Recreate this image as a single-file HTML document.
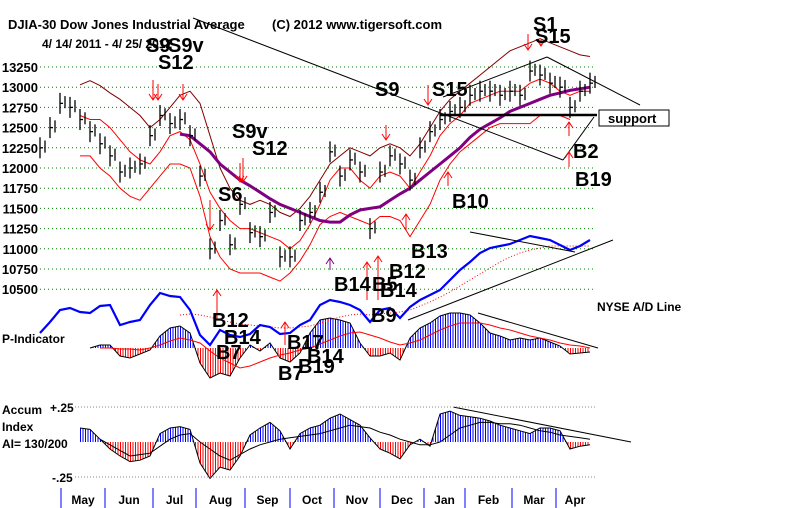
<!DOCTYPE html>
<html><head><meta charset="utf-8">
<style>
html,body{margin:0;padding:0;background:#fff;}
#wrap{position:relative;width:800px;height:508px;overflow:hidden;background:#fff;}
svg text{font-family:"Liberation Sans",Arial,sans-serif;font-weight:bold;fill:#000;}
</style></head>
<body>
<div id="wrap">
<svg id="chart" width="800" height="508" viewBox="0 0 800 508" xmlns="http://www.w3.org/2000/svg">
<defs>
<pattern id="stripeBlue" width="2.5" height="4" patternUnits="userSpaceOnUse"><rect x="0" y="0" width="1" height="4" fill="#0000ff"/></pattern>
<pattern id="stripeRed" width="2.5" height="4" patternUnits="userSpaceOnUse"><rect x="0" y="0" width="1" height="4" fill="#ff0000"/></pattern>
<clipPath id="pAbove"><rect x="0" y="0" width="800" height="348"/></clipPath>
<clipPath id="pBelow"><rect x="0" y="348" width="800" height="60"/></clipPath>
<clipPath id="aAbove"><rect x="0" y="380" width="800" height="62"/></clipPath>
<clipPath id="aBelow"><rect x="0" y="442" width="800" height="50"/></clipPath>
</defs>
<g id="grid"></g>
<g id="ylabels"></g>
<g id="series"></g>

<text x="8" y="29" font-size="13">DJIA-30  Dow Jones Industrial Average</text>
<text x="272" y="29" font-size="13">(C) 2012 www.tigersoft.com</text>
<text x="42" y="48" font-size="12">4/ 14/ 2011 - 4/ 25/ 2012</text>

<g stroke="#000" stroke-width="1" fill="none">
<line x1="193" y1="18" x2="563" y2="160"/>
<line x1="563" y1="160" x2="594" y2="117"/>
<line x1="443" y1="97" x2="547" y2="57"/>
<line x1="547" y1="57" x2="640" y2="105"/>
<line x1="440" y1="115" x2="597" y2="115" stroke-width="2.5"/>
<line x1="408" y1="320" x2="613" y2="240"/>
<line x1="470" y1="232" x2="575" y2="252"/>
<line x1="478" y1="313" x2="598" y2="348"/>
<line x1="453" y1="407" x2="631" y2="442"/>
</g>
<g>
<rect x="599" y="110" width="70" height="16" fill="#fff" stroke="#000" stroke-width="1"/>
<text x="608" y="123" font-size="13">support</text>
</g>

<g id="arrows"></g>

<g font-size="20">
<text x="146" y="52" font-size="20">S9</text><text x="168" y="52" font-size="20">S9v</text>
<text x="158" y="69" font-size="20">S12</text>
<text x="232" y="138" font-size="20">S9v</text>
<text x="252" y="155" font-size="20">S12</text>
<text x="218" y="201" font-size="20">S6</text>
<text x="375" y="96" font-size="20">S9</text>
<text x="432" y="96" font-size="20">S15</text>
<text x="533" y="31" font-size="20">S1</text>
<text x="535" y="43" font-size="20">S15</text>
<text x="573" y="158" font-size="20">B2</text>
<text x="575" y="186" font-size="20">B19</text>
<text x="452" y="208" font-size="20">B10</text>
<text x="411" y="258" font-size="20">B13</text>
<text x="389" y="278" font-size="20">B12</text>
<text x="334" y="291" font-size="20">B14</text>
<text x="372" y="291" font-size="20">B5</text>
<text x="380" y="297" font-size="20">B14</text>
<text x="371" y="322" font-size="20">B9</text>
<text x="212" y="327" font-size="20">B12</text>
<text x="224" y="344" font-size="20">B14</text>
<text x="216" y="359" font-size="20">B7</text>
<text x="287" y="349" font-size="20">B17</text>
<text x="307" y="363" font-size="20">B14</text>
<text x="278" y="380" font-size="20">B7</text>
<text x="298" y="373" font-size="20">B19</text>
</g>

<text x="597" y="311" font-size="12">NYSE A/D Line</text>
<text x="2" y="343" font-size="12">P-Indicator</text>
<text x="2" y="414" font-size="12">Accum</text>
<text x="2" y="431" font-size="12">Index</text>
<text x="2" y="448" font-size="12">AI= 130/200</text>
<text x="50" y="412" font-size="12">+.25</text>
<text x="52" y="482" font-size="12">-.25</text>
<line x1="75" y1="407" x2="595" y2="407" stroke="#888" stroke-dasharray="1,2"/>
<line x1="75" y1="477" x2="595" y2="477" stroke="#888" stroke-dasharray="1,2"/>

<g id="xaxis"></g>
</svg>
</div>
<script>
// ---- data (one point every ~week, index 0 = mid-Apr 2011) ----
const priceTicks = [13250,13000,12750,12500,12250,12000,11750,11500,11250,11000,10750,10500];
const closes = [12250,12500,12800,12750,12600,12450,12300,12150,11950,12000,12050,12400,12650,12550,12600,12400,11900,11000,11350,11050,11550,11200,11150,11450,10900,10900,11350,11450,11700,12200,11900,12100,11950,11250,11950,12150,12050,11850,12250,12450,12600,12700,12750,12900,12950,12950,12900,12950,12900,13200,13150,13050,13000,12750,12950,13050];
const ma50 = [null,null,null,null,null,null,null,null,null,null,null,null,null,null,12420,12400,12300,12200,12050,11950,11850,11780,11700,11620,11550,11500,11450,11400,11350,11330,11330,11420,11480,11500,11520,11600,11680,11750,11850,11950,12050,12150,12250,12380,12480,12550,12620,12700,12750,12800,12850,12900,12930,12960,12980,13000];
const upperBand = [null,null,null,null,13030,13080,13020,12930,12850,12750,12650,12500,12600,12750,12900,12950,12800,12400,12000,11750,11600,11550,11600,11550,11450,11400,11500,11650,11850,12050,12150,12250,12200,12150,12250,12300,12250,12150,12300,12500,12700,12850,12950,13050,13150,13250,13350,13450,13500,13550,13600,13550,13500,13450,13400,13380];
const redUpper = [null,null,null,null,12650,12600,12600,12500,12350,12200,12100,12050,12200,12400,12450,12350,12050,11700,11500,11350,11250,11250,11200,11150,11100,11000,11100,11300,11550,11850,12000,12000,11850,11750,11900,11950,11900,11750,11950,12150,12400,12550,12650,12800,12850,12900,12950,12950,12950,13050,13100,13050,12950,12900,12950,12950];
const redLower = [null,null,null,null,12150,12150,12000,11900,11750,11650,11600,11750,11900,12050,12050,12000,11650,11150,10900,10750,10700,10700,10700,10650,10600,10700,10850,11050,11300,11400,11450,11400,11350,11300,11400,11400,11350,11150,11350,11550,11850,12050,12200,12300,12400,12500,12550,12550,12550,12550,12650,12650,12650,12600,null,null];
const adLine = [17,28,40,42,38,37,44,45,25,28,30,45,57,54,53,40,15,5,20,15,13,16,25,23,16,17,25,30,45,50,48,45,40,28,40,42,32,43,50,55,60,70,80,88,97,102,104,106,110,114,112,110,105,100,104,110];
const adMA = [null,null,null,null,null,null,null,null,null,null,null,null,null,null,35,36,35,33,30,28,26,25,24,23,22,22,23,24,27,30,33,35,36,35,36,37,38,40,44,48,53,58,64,70,76,82,88,93,97,100,102,104,104,104,104,104];
const pInd = [null,null,null,null,null,0,3,3,-8,-10,-6,-2,12,20,22,15,-15,-30,-25,-28,-10,3,-3,5,-10,-14,-5,15,28,30,28,25,5,-8,-8,-5,-12,10,20,25,32,35,35,33,25,15,12,8,10,8,10,6,2,-6,-5,-4];
const pMA = [null,null,null,null,null,null,0,0,-1,-1,-2,0,3,7,10,8,5,-3,-10,-15,-20,-18,-14,-10,-7,-5,-2,0,4,8,12,15,16,13,10,6,3,5,8,13,18,22,25,25,25,23,20,18,15,12,10,8,5,3,2,0];
const accum = [null,null,null,null,0.10,0.09,0.02,-0.05,-0.10,-0.14,-0.13,-0.10,0.06,0.10,0.11,0.09,-0.15,-0.26,-0.18,-0.20,-0.10,0.05,0.10,0.14,0.08,-0.05,0.06,0.10,0.12,0.17,0.20,0.16,0.12,0.03,-0.05,-0.08,-0.12,-0.02,0.02,-0.03,0.20,0.22,0.19,0.18,0.17,0.15,0.12,0.10,0.08,0.06,0.10,0.10,0.08,-0.05,-0.03,-0.02];
const accumMA = [null,null,null,null,null,null,0.02,-0.02,-0.06,-0.10,-0.09,-0.08,-0.03,0.02,0.05,0.06,0.00,-0.05,-0.10,-0.13,-0.09,-0.05,-0.02,0.00,0.02,0.03,0.04,0.05,0.06,0.08,0.10,0.12,0.11,0.10,0.07,0.05,0.02,0.00,-0.02,-0.02,0.00,0.05,0.10,0.12,0.14,0.14,0.13,0.13,0.12,0.10,0.08,0.07,0.05,0.04,0.03,0.02];
const months = ["May","Jun","Jul","Aug","Sep","Oct","Nov","Dec","Jan","Feb","Mar","Apr"];
const monthStart = [2.1,6.5,11.3,15.6,20.5,25,29.4,34,38.4,42.5,47.2,51.6];

// ---- scales ----
const NS = "http://www.w3.org/2000/svg";
function xI(i){ return 40 + i*10; }
function yP(v){ return 67 + (13250 - v)/250*20.2; }
function yAD(v){ return 350 - v; }
function yPI(v){ return 348 - v; }
function yAI(v){ return 442 - v/0.25*35; }
function mk(tag, attrs, parent){ const e=document.createElementNS(NS,tag); for(const k in attrs) e.setAttribute(k,attrs[k]); parent.appendChild(e); return e; }
function pathOf(arr, fy){ let d=""; let pen=false; arr.forEach((v,i)=>{ if(v===null){pen=false;return;} d += (pen?"L":"M")+xI(i).toFixed(1)+","+fy(v).toFixed(1)+" "; pen=true; }); return d; }

const grid = document.getElementById("grid");
const ylab = document.getElementById("ylabels");
priceTicks.forEach(t=>{
  const l = mk("line",{x1:40,x2:595,y1:yP(t),y2:yP(t),stroke:"#008000","stroke-dasharray":"1,3"},grid);
  
  
  const tx = mk("text",{x:38,y:yP(t)+5,"font-size":"13","text-anchor":"end"},ylab);
  tx.textContent = t;
  
  
});

const S = document.getElementById("series");
function line(arr, fy, attrs, name){
  const p = mk("path", Object.assign({d:pathOf(arr,fy),fill:"none"},attrs), S);
  
  
  return p;
}
function hist(arr, fy, base, clipA, clipB, name){
  let pts = []; let first=-1, last=-1;
  arr.forEach((v,i)=>{ if(v!==null){ if(first<0) first=i; last=i; pts.push(xI(i)+","+fy(v)); }});
  const poly = xI(first)+","+base+" "+pts.join(" ")+" "+xI(last)+","+base;
  const a = mk("polygon",{points:poly,fill:"url(#stripeBlue)","clip-path":"url(#"+clipA+")"},S);
  
  
  const b = mk("polygon",{points:poly,fill:"url(#stripeRed)","clip-path":"url(#"+clipB+")"},S);
  
  
  line(arr, fy, {stroke:"#000","stroke-width":1}, name+'-outline');
}

// price bands
line(upperBand, yP, {stroke:"#800000","stroke-width":1}, 'upper-band');
line(redUpper, yP, {stroke:"#ff0000","stroke-width":1}, 'red-upper-band');
line(redLower, yP, {stroke:"#ff0000","stroke-width":1}, 'red-lower-band');
line(ma50, yP, {stroke:"#800080","stroke-width":3}, 'moving-average');
// price bars
closes.forEach((c,i)=>{
  const x = xI(i);
  const g = mk("g",{stroke:"#000","stroke-width":1.3},S);
  
  
  mk("line",{x1:x,x2:x,y1:yP(c+130),y2:yP(c-130)},g);
  mk("line",{x1:x,x2:x+3,y1:yP(c),y2:yP(c)},g);
  mk("line",{x1:x+5,x2:x+5,y1:yP(c+90),y2:yP(c-60)},g);
});
// P-indicator
hist(pInd, yPI, 348, "pAbove", "pBelow", 'p-indicator');
line(pMA, yPI, {stroke:"#ff0000","stroke-width":1}, 'p-indicator-ma');
// A/D line
line(adMA, yAD, {stroke:"#ff0000","stroke-width":1,"stroke-dasharray":"1,2"}, 'ad-line-ma');
line(adLine, yAD, {stroke:"#0000ff","stroke-width":2.2}, 'nyse-ad-line');
// Accum index
hist(accum, yAI, 442, "aAbove", "aBelow", 'accum-index');
line(accumMA, yAI, {stroke:"#000","stroke-width":1}, 'accum-index-ma');

// signal arrows
const arrows = [[153,80,100,1],[158,84,100,1],[183,84,100,1],[243,158,182,1],[240,163,182,1],[210,200,230,1],[386,125,140,1],[428,85,105,1],[528,34,50,1],[541,40,46,1],[569,136,122,0],[569,167,152,0],[448,186,172,0],[406,230,214,0],[378,300,256,0],[367,300,262,0],[217,320,290,0],[285,345,322,0],[330,270,258,0]];
const AG = document.getElementById("arrows");
arrows.forEach(a=>{
  const [x,y1,y2,down]=a;
  const g = mk("g",{stroke:a[0]===330?"#800080":"#ff0000","stroke-width":1,fill:"none"},AG);
  
  
  mk("line",{x1:x,x2:x,y1:y1,y2:y2},g);
  mk("polyline",{points:(x-4)+","+(down?y2-6:y2+6)+" "+x+","+y2+" "+(x+4)+","+(down?y2-6:y2+6)},g);
});

// x axis
const XA = document.getElementById("xaxis");
monthStart.forEach((m,i)=>{
  const x = xI(m);
  const l = mk("line",{x1:x,x2:x,y1:488,y2:508,stroke:"#0000ff","stroke-width":1},XA);
  
  
  const nx = i<monthStart.length-1 ? xI(monthStart[i+1]) : x+38;
  const t = mk("text",{x:(x+nx)/2,y:504,"font-size":"12","text-anchor":"middle"},XA);
  t.textContent = months[i];
  
  
});
</script>
</body></html>
